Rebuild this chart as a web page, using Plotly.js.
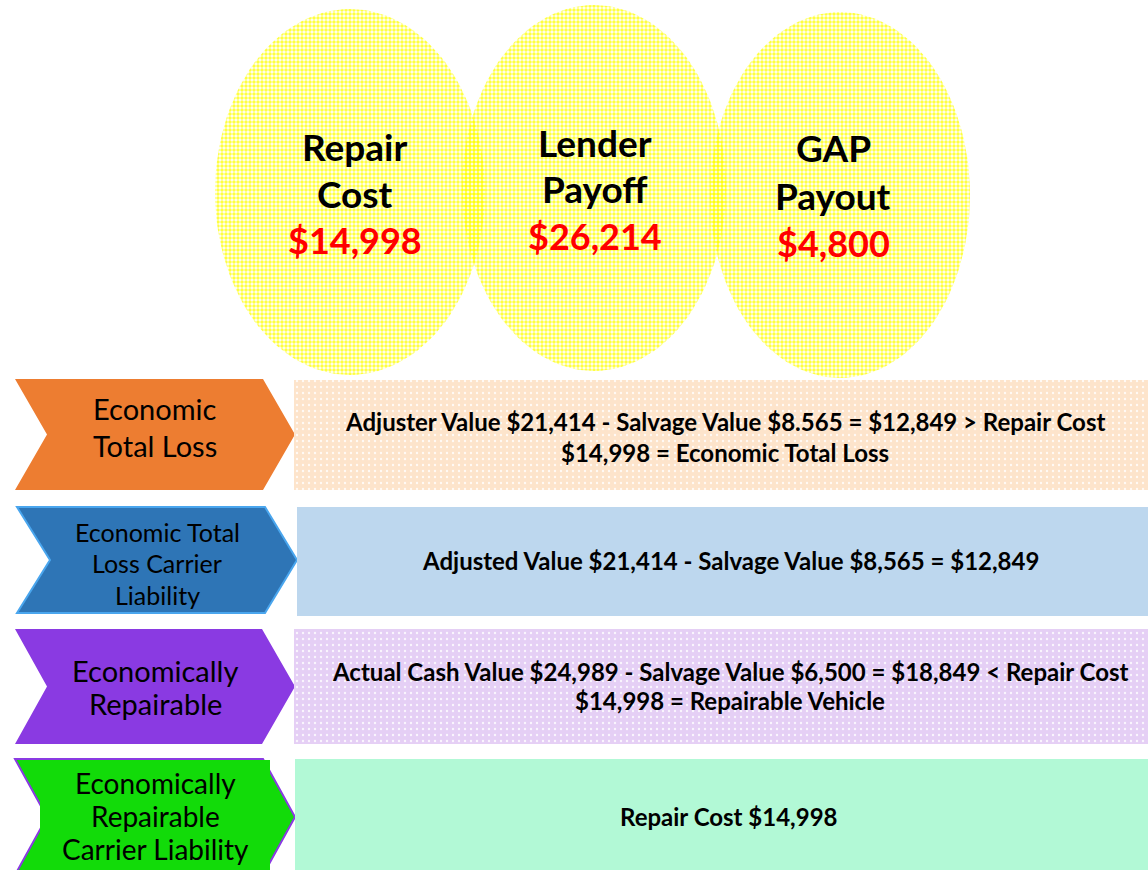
<!DOCTYPE html>
<html>
<head>
<meta charset="utf-8">
<script src="https://cdn.plot.ly/plotly-3.0.1.min.js"></script>
<style>html,body{margin:0;padding:0;background:#fff;}#chart{width:1148px;height:870px;}</style>
</head>
<body>
<div id="chart"></div>
<script>
// ---- content (text values) ----
const circleTitles = [["Repair", "Cost"], ["Lender", "Payoff"], ["GAP", "Payout"]];
const circleValues = ["$14,998", "$26,214", "$4,800"];
const rowLabels = [
  ["Economic", "Total Loss"],
  ["Economic Total", "Loss Carrier", "Liability"],
  ["Economically", "Repairable"],
  ["Economically", "Repairable", "Carrier Liability"]
];
const rowFormulas = [
  ["Adjuster Value $21,414 - Salvage Value $8.565 = $12,849 > Repair Cost", "$14,998 = Economic Total Loss"],
  ["Adjusted Value $21,414 - Salvage Value $8,565 = $12,849"],
  ["Actual Cash Value $24,989 - Salvage Value $6,500 = $18,849 < Repair Cost", "$14,998 = Repairable Vehicle"],
  ["Repair Cost $14,998"]
];

// ---- layout geometry (pixel space) ----
const ellipses = [
  {cx: 350, cy: 192, rx: 135, ry: 183, tx: 355, ty: [146, 193], vy: 240},
  {cx: 594, cy: 188, rx: 132, ry: 183, tx: 595, ty: [142, 188], vy: 236},
  {cx: 840, cy: 195, rx: 130, ry: 183, tx: 833, ty: [147, 195], vy: 243}
];
const chevrons = [
  {top: 379, bot: 490, left: 15, notch: 47, shoulder: 263, tip: 295, fill: "#ED7D31", line: "#ED7D31", lw: 0,
   tx: 155, ty: [408, 445], fs: 29},
  {top: 507, bot: 613, left: 17, notch: 50, shoulder: 265, tip: 297, fill: "#2E75B6", line: "#4AA6EE", lw: 2,
   tx: 157, ty: [532, 563, 595], fs: 25},
  {top: 629, bot: 744, left: 15, notch: 47, shoulder: 262, tip: 295, fill: "#8A3AE2", line: "#8A3AE2", lw: 0,
   tx: 155, ty: [670, 703], fs: 29},
  {top: 759, bot: 875, left: 15, notch: 47, shoulder: 263, tip: 295, fill: "#12DB09", line: "#8A3AE2", lw: 2,
   tx: 155, ty: [783, 816, 849], fs: 28}
];
const boxes = [
  {x0: 294, x1: 1148, y0: 380, y1: 490, fill: "#FDE4CB", dots: true, tx: 725, ty: [421, 452]},
  {x0: 297, x1: 1148, y0: 507, y1: 616, fill: "#BDD7EE", dots: false, tx: 730, ty: [560]},
  {x0: 294, x1: 1148, y0: 629, y1: 744, fill: "#E5CFF5", dots: true, tx: 730, ty: [671, 700]},
  {x0: 295, x1: 1148, y0: 759, y1: 870, fill: "#B2F9D6", dots: false, tx: 729, ty: [816]}
];

const FONT = "Lato, 'Open Sans', sans-serif";
const traces = [];
const shapes = [];
const annotations = [];

// ellipses with yellow dot pattern
ellipses.forEach(e => {
  const xs = [], ys = [];
  for (let i = 0; i <= 120; i++) {
    const t = 2 * Math.PI * i / 120;
    xs.push(e.cx + e.rx * Math.cos(t));
    ys.push(e.cy + e.ry * Math.sin(t));
  }
  traces.push({
    type: "scatter", mode: "lines", x: xs, y: ys, fill: "toself",
    fillcolor: "rgba(255,255,0,0.12)",
    fillpattern: {shape: ".", fgcolor: "#FFFF00", fgopacity: 0.75, bgcolor: "rgba(255,255,255,0)", size: 4, solidity: 0.6, fillmode: "overlay"},
    line: {width: 0, color: "rgba(0,0,0,0)"}, hoverinfo: "skip"
  });
});

// chevrons
chevrons.forEach((c, i) => {
  const mid = (c.top + c.bot) / 2;
  const path = `M ${c.left} ${c.top} L ${c.shoulder} ${c.top} L ${c.tip} ${mid} L ${c.shoulder} ${c.bot} L ${c.left} ${c.bot} L ${c.notch} ${mid} Z`;
  shapes.push({type: "path", xref: "x", yref: "y", path: path, fillcolor: c.fill,
    line: {color: c.line, width: c.lw}, layer: "below"});
  if (i === 3) {
    shapes.push({type: "rect", xref: "x", yref: "y", x0: 40, x1: 270, y0: 760, y1: 872,
      fillcolor: c.fill, line: {width: 0}, layer: "below"});
  }
  rowLabels[i].forEach((txt, j) => {
    annotations.push({x: c.tx, y: c.ty[j], xref: "x", yref: "y", text: txt, showarrow: false,
      xanchor: "center", yanchor: "middle", font: {family: FONT, size: c.fs, color: "#000"}});
  });
});

// right boxes
boxes.forEach((b, i) => {
  traces.push({
    type: "scatter", mode: "lines",
    x: [b.x0, b.x1, b.x1, b.x0, b.x0], y: [b.y0, b.y0, b.y1, b.y1, b.y0],
    fill: "toself", fillcolor: b.fill,
    fillpattern: b.dots ? {shape: ".", fgcolor: "rgba(255,255,255,0.8)", bgcolor: b.fill, size: 6, solidity: 0.12} : undefined,
    line: {width: 0, color: "rgba(0,0,0,0)"}, hoverinfo: "skip"
  });
  rowFormulas[i].forEach((txt, j) => {
    annotations.push({x: b.tx, y: b.ty[j], xref: "x", yref: "y", text: "<b>" + txt + "</b>", showarrow: false,
      xanchor: "center", yanchor: "middle", font: {family: FONT, size: 24, color: "#000"}});
  });
});

// circle texts
ellipses.forEach((e, i) => {
  circleTitles[i].forEach((txt, j) => {
    annotations.push({x: e.tx, y: e.ty[j], xref: "x", yref: "y", text: "<b>" + txt + "</b>", showarrow: false,
      xanchor: "center", yanchor: "middle", font: {family: FONT, size: 37, color: "#000"}});
  });
  annotations.push({x: e.tx, y: e.vy, xref: "x", yref: "y", text: "<b>" + circleValues[i] + "</b>", showarrow: false,
    xanchor: "center", yanchor: "middle", font: {family: FONT, size: 36, color: "#FF0000"}});
});

const layout = {
  width: 1148, height: 870,
  margin: {l: 0, r: 0, t: 0, b: 0, pad: 0},
  paper_bgcolor: "#FFFFFF", plot_bgcolor: "#FFFFFF",
  showlegend: false,
  xaxis: {range: [0, 1148], visible: false, fixedrange: true},
  yaxis: {range: [870, 0], visible: false, fixedrange: true},
  shapes: shapes,
  annotations: annotations
};

Plotly.newPlot("chart", traces, layout, {staticPlot: true, displayModeBar: false});
</script>
</body>
</html>
